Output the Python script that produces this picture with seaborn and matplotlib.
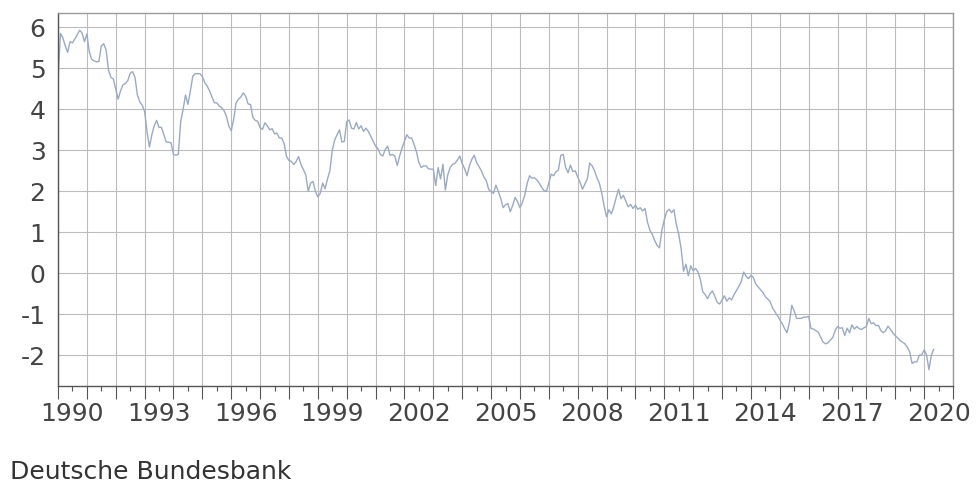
import numpy as np
import pandas as pd
import matplotlib
matplotlib.use("Agg")
import matplotlib.pyplot as plt
import seaborn as sns
from matplotlib.ticker import FixedLocator, FixedFormatter, NullFormatter

# Monthly values, January 1990 .. May 2020
v1990 = [4.70, 5.85, 5.75, 5.55, 5.39, 5.65, 5.62, 5.72, 5.82, 5.93, 5.86, 5.65]
v1991 = [5.84, 5.40, 5.22, 5.18, 5.16, 5.17, 5.55, 5.60, 5.45, 4.95, 4.78, 4.74]
v1992 = [4.50, 4.25, 4.45, 4.60, 4.63, 4.70, 4.88, 4.92, 4.78, 4.35, 4.18, 4.10]
v1993 = [3.95, 3.45, 3.08, 3.38, 3.60, 3.73, 3.56, 3.56, 3.38, 3.20, 3.20, 3.18]
v1994 = [2.90, 2.88, 2.90, 3.70, 4.00, 4.35, 4.12, 4.44, 4.80, 4.87, 4.87, 4.87]
v1995 = [4.80, 4.65, 4.57, 4.45, 4.30, 4.16, 4.16, 4.08, 4.04, 3.97, 3.83, 3.59]
v1996 = [3.48, 3.75, 4.15, 4.25, 4.30, 4.40, 4.32, 4.13, 4.12, 3.80, 3.73, 3.71]
v1997 = [3.55, 3.51, 3.67, 3.60, 3.50, 3.53, 3.40, 3.42, 3.30, 3.30, 3.16, 2.85]
v1998 = [2.75, 2.73, 2.65, 2.73, 2.85, 2.65, 2.53, 2.40, 2.00, 2.20, 2.24, 2.00]
v1999 = [1.86, 1.95, 2.20, 2.06, 2.30, 2.50, 3.00, 3.25, 3.38, 3.50, 3.20, 3.22]
v2000 = [3.70, 3.74, 3.54, 3.52, 3.68, 3.52, 3.60, 3.46, 3.54, 3.46, 3.34, 3.22]
v2001 = [3.10, 3.04, 2.90, 2.86, 3.02, 3.10, 2.88, 2.90, 2.86, 2.63, 2.86, 3.06]
v2002 = [3.22, 3.38, 3.30, 3.30, 3.14, 2.96, 2.70, 2.58, 2.62, 2.62, 2.55, 2.54]
v2003 = [2.54, 2.14, 2.58, 2.30, 2.66, 2.03, 2.40, 2.58, 2.66, 2.68, 2.76, 2.86]
v2004 = [2.68, 2.55, 2.38, 2.62, 2.78, 2.88, 2.70, 2.60, 2.50, 2.35, 2.26, 2.05]
v2005 = [1.99, 1.95, 2.15, 2.00, 1.83, 1.60, 1.67, 1.70, 1.50, 1.66, 1.85, 1.75]
v2006 = [1.60, 1.72, 1.90, 2.19, 2.38, 2.32, 2.33, 2.28, 2.20, 2.10, 2.02, 2.00]
v2007 = [2.20, 2.42, 2.38, 2.48, 2.52, 2.88, 2.90, 2.58, 2.45, 2.64, 2.48, 2.50]
v2008 = [2.35, 2.22, 2.05, 2.18, 2.30, 2.69, 2.62, 2.50, 2.33, 2.20, 1.96, 1.64]
v2009 = [1.38, 1.55, 1.45, 1.62, 1.85, 2.05, 1.82, 1.90, 1.76, 1.62, 1.68, 1.58]
v2010 = [1.66, 1.56, 1.60, 1.52, 1.58, 1.25, 1.05, 0.95, 0.80, 0.68, 0.62, 1.05]
v2011 = [1.30, 1.50, 1.56, 1.48, 1.55, 1.20, 0.95, 0.60, 0.05, 0.22, -0.06, 0.18]
v2012 = [0.06, 0.12, 0.03, -0.15, -0.45, -0.52, -0.62, -0.50, -0.43, -0.56, -0.71, -0.75]
v2013 = [-0.65, -0.55, -0.68, -0.60, -0.65, -0.52, -0.42, -0.32, -0.20, 0.03, -0.07, -0.13]
v2014 = [-0.05, -0.10, -0.26, -0.33, -0.40, -0.47, -0.57, -0.63, -0.69, -0.85, -0.94, -1.03]
v2015 = [-1.13, -1.23, -1.35, -1.45, -1.20, -0.78, -0.92, -1.10, -1.10, -1.10, -1.07, -1.07]
v2016 = [-1.05, -1.35, -1.36, -1.40, -1.44, -1.56, -1.68, -1.72, -1.70, -1.63, -1.57, -1.40]
v2017 = [-1.30, -1.34, -1.33, -1.52, -1.34, -1.45, -1.26, -1.36, -1.30, -1.35, -1.37, -1.33]
v2018 = [-1.30, -1.10, -1.23, -1.21, -1.28, -1.27, -1.40, -1.45, -1.40, -1.29, -1.37, -1.45]
v2019 = [-1.52, -1.58, -1.64, -1.68, -1.72, -1.80, -1.92, -2.20, -2.16, -2.16, -2.00, -1.99]
v2020 = [-1.87, -1.99, -2.35, -2.00, -1.85]

start_year = 1990
y_ticks = [-2, -1, 0, 1, 2, 3, 4, 5, 6]
label_years = [1990, 1993, 1996, 1999, 2002, 2005, 2008, 2011, 2014, 2017, 2020]
source_text = "Deutsche Bundesbank"

values = (v1990 + v1991 + v1992 + v1993 + v1994 + v1995 + v1996 + v1997 + v1998
          + v1999 + v2000 + v2001 + v2002 + v2003 + v2004 + v2005 + v2006 + v2007
          + v2008 + v2009 + v2010 + v2011 + v2012 + v2013 + v2014 + v2015 + v2016
          + v2017 + v2018 + v2019 + v2020)
months = np.arange(len(values))
df = pd.DataFrame({"t": start_year + months / 12.0, "v": values})

sns.set_theme(style="white")
plt.rcParams["font.family"] = ["DejaVu Sans"]
plt.rcParams["axes.unicode_minus"] = False

W, H = 976, 504
fig = plt.figure(figsize=(W / 100, H / 100), dpi=100)
ax = fig.add_axes([58 / W, 1 - 386 / H, (953 - 58) / W, (386 - 13) / H])

sns.lineplot(data=df, x="t", y="v", ax=ax, color="#9aaac6", linewidth=1.0)

ax.set_xlim(1990, 2021)
ax.set_ylim(-2.75, 6.35)
ax.set_xlabel("")
ax.set_ylabel("")

years = np.arange(1990, 2022)
ax.xaxis.set_major_locator(FixedLocator(years))
ax.xaxis.set_major_formatter(NullFormatter())
mids = years[:-1] + 0.5
ax.xaxis.set_minor_locator(FixedLocator(mids))
ax.xaxis.set_minor_formatter(FixedFormatter(
    [str(y) if y in label_years else "" for y in years[:-1]]))

ax.set_yticks(y_ticks)
ax.set_yticklabels([str(v) for v in y_ticks])

ax.grid(True, which="major", axis="both", color="#bcbcbc", linewidth=0.8)
ax.grid(False, which="minor")
ax.set_axisbelow(True)

ax.tick_params(axis="x", which="major", bottom=True, length=9.5, width=0.8,
               color="#555555")
ax.tick_params(axis="x", which="minor", bottom=True, length=3.6, width=0.8,
               color="#555555", labelsize=18, labelcolor="#444444", pad=8)
ax.tick_params(axis="y", which="both", left=False, length=0, pad=9,
               labelsize=18, labelcolor="#444444")

for side in ["left", "bottom"]:
    ax.spines[side].set_color("#555555")
    ax.spines[side].set_linewidth(1.0)
for side in ["top", "right"]:
    ax.spines[side].set_color("#9a9a9a")
    ax.spines[side].set_linewidth(1.0)

fig.text(10 / W, 1 - 479 / H, source_text, fontsize=18, color="#333333",
         ha="left", va="baseline")

fig.savefig("out.png", dpi=100)
